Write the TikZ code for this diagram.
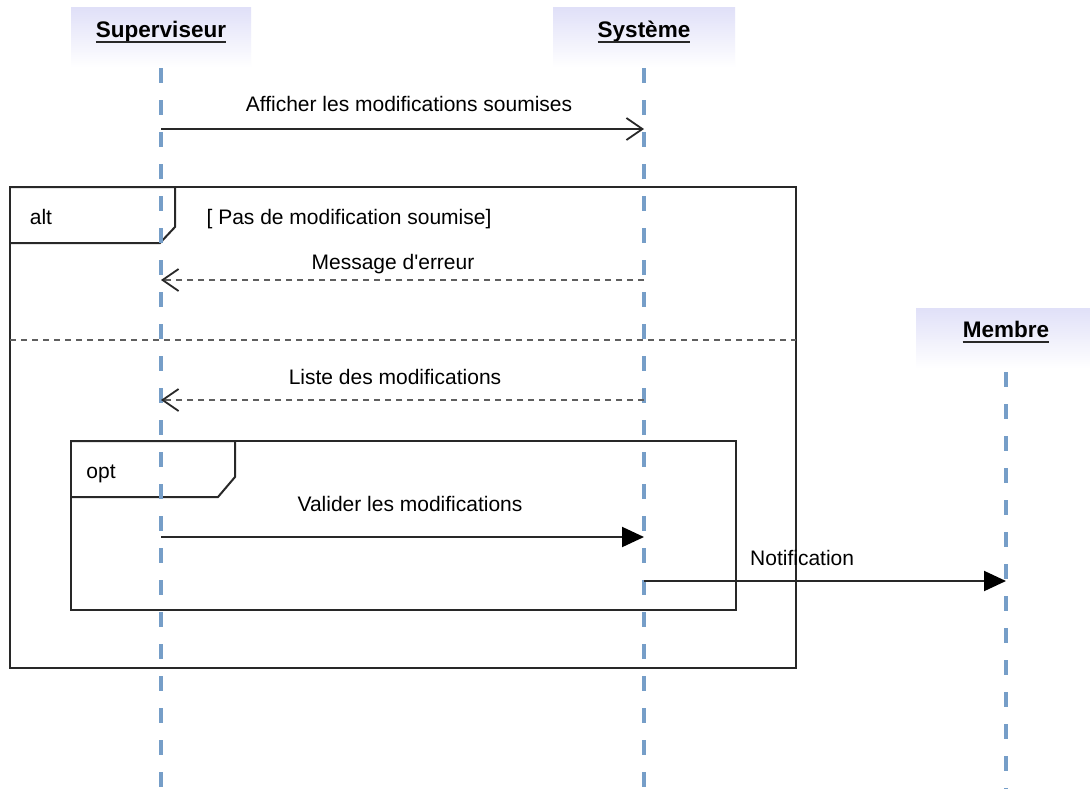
\documentclass[tikz,border=0pt]{standalone}
\usepackage{fontspec}
\setmainfont{Liberation Sans}
\usetikzlibrary{arrows.meta}
\definecolor{life}{RGB}{118,158,200}
\definecolor{hdr}{RGB}{224,224,248}
\definecolor{ln}{RGB}{40,40,40}
\definecolor{dl}{RGB}{95,95,95}
\tikzset{
  header/.style={minimum width=180pt, minimum height=60pt, top color=hdr, bottom color=white, draw=none, inner sep=0pt},
  title/.style={font=\fontsize{22.5}{26}\selectfont\bfseries, inner sep=0pt, anchor=base, text=black},
  uline/.style={line width=2pt, draw=ln},
  lifeline/.style={line width=4pt, draw=life, dash pattern=on 15pt off 17pt},
  syncmsg/.style={line width=2pt, draw=ln, -{Triangle[length=22pt,width=20pt,color=black]}},
  asyncmsg/.style={line width=2pt, draw=ln, -{Straight Barb[length=16pt,width=22pt,line width=1.8pt]}},
  replymsg/.style={line width=2.2pt, draw=dl, dash pattern=on 6pt off 5pt, -{Straight Barb[length=16pt,width=22pt,line width=1.8pt,color=ln]}},
  framebox/.style={line width=2pt, draw=ln},
  lbl/.style={font=\fontsize{21}{25}\selectfont, inner sep=0pt, anchor=base, text=black}
}
\begin{document}
\begin{tikzpicture}[x=1pt, y=-1pt]
\useasboundingbox[fill=white] (0,0) rectangle (1090,788);

% headers
\node[header] (hS) at (161,37.5) {};
\node[header, minimum width=182pt] (hY) at (644,37.5) {};
\node[header] (hM) at (1006,338) {};
\node[title] (tS) at (161,37) {Superviseur};
\node[title] (tY) at (644,37) {Système};
\node[title] (tM) at (1006,337) {Membre};
\draw[uline] ([yshift=-5pt]tS.base west) -- ([yshift=-5pt]tS.base east);
\draw[uline] ([yshift=-5pt]tY.base west) -- ([yshift=-5pt]tY.base east);
\draw[uline] ([yshift=-5pt]tM.base west) -- ([yshift=-5pt]tM.base east);

% frames
\draw[framebox] (10,187) rectangle (796,668);
\draw[framebox] (10,187) -- (175,187) -- (175,227) -- (160,243) -- (10,243);
\node[lbl] (alt) at (41,224) {alt};
\node[lbl] (guard) at (349,224) {[ Pas de modification soumise]};
\draw[line width=2.2pt, draw=dl, dash pattern=on 6pt off 5pt] (10,340) -- (796,340);
\draw[framebox] (71,441) rectangle (736,610);
\draw[framebox] (71,441) -- (235,441) -- (235,477) -- (218,497) -- (71,497);
\node[lbl] (opt) at (101,478) {opt};

% lifelines
\coordinate (S0) at (161,68);  \coordinate (S9) at (161,790);
\coordinate (Y0) at (644,68);  \coordinate (Y9) at (644,790);
\coordinate (M0) at (1006,372); \coordinate (M9) at (1006,790);
\draw[lifeline] (S0) -- (S9);
\draw[lifeline] (Y0) -- (Y9);
\draw[lifeline] (M0) -- (M9);

% message anchor points
\coordinate (S1) at (161,129); \coordinate (Y1) at (644,129);
\coordinate (S2) at (161,280); \coordinate (Y2) at (644,280);
\coordinate (S3) at (161,400); \coordinate (Y3) at (644,400);
\coordinate (S4) at (161,537); \coordinate (Y4) at (644,537);
\coordinate (Y5) at (644,581); \coordinate (M5) at (1006,581);

% messages
\draw[asyncmsg] (S1) -- (Y1);
\node[lbl] (l1) at (409,111) {Afficher les modifications soumises};
\draw[replymsg] (Y2) -- (S2);
\node[lbl] (l2) at (393,269) {Message d\textquotesingle erreur};
\draw[replymsg] (Y3) -- (S3);
\node[lbl] (l3) at (395,384) {Liste des modifications};
\draw[syncmsg] (S4) -- (Y4);
\node[lbl] (l4) at (410,511) {Valider les modifications};
\draw[syncmsg] (Y5) -- (M5);
\node[lbl, anchor=base west] (l5) at (750,565) {Notification};
\end{tikzpicture}
\end{document}
